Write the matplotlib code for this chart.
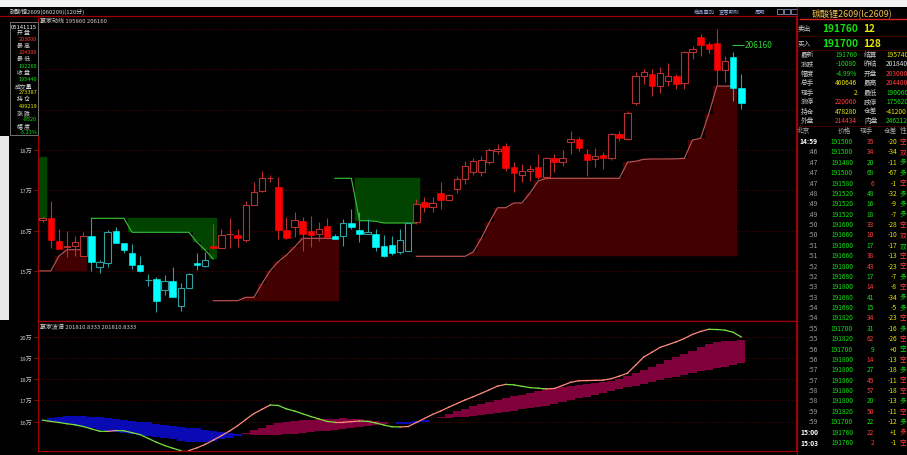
#!/usr/bin/env python3
# -*- coding: utf-8 -*-
import matplotlib
matplotlib.use("Agg")
import matplotlib.pyplot as plt
from matplotlib.patches import Rectangle

plt.rcParams["font.family"] = ["Noto Sans CJK SC", "DejaVu Sans"]

# ----------------------- Data -----------------------
# 120-minute candles, oldest first (yuan)
opens = [162600, 163050, 157500, 156000, 156100, 153630, 158740, 150900, 151900, 159830,
         156930, 154450, 151470, 147830, 148000, 145340, 147430, 141240, 145700, 151900,
         151300, 156100, 155700, 159100, 158900, 157750, 166430, 169900, 173050, 170900,
         160230, 161000, 162460, 159830, 159160, 161070, 158600, 158600, 161900, 160150,
         159100, 159160, 156100, 156430, 154600, 155000, 162060, 167020, 165780, 169430,
         167700, 170320, 172800, 174620, 174620, 176930, 179830, 180900, 175700, 173800,
         174860, 175700, 173230, 178000, 176930, 181900, 182700, 179000, 177770, 178760,
         177930, 184050, 182650, 191600, 198430, 198850, 195800, 197000, 198270, 196540,
         204240, 207960, 206220, 206550, 199920, 203000, 195380]
highs = [163600, 167420, 160400, 160000, 158670, 159660, 163130, 152700, 160230, 160900,
         156930, 156700, 153800, 149240, 148420, 149070, 150900, 147000, 149500, 154450,
         154700, 161650, 160400, 163050, 160400, 167420, 172000, 174860, 173800, 173380,
         163300, 164700, 163300, 163700, 162140, 163130, 159160, 162880, 165360, 164540,
         162800, 160400, 158900, 158740, 160330, 161900, 167850, 168260, 168260, 172000,
         169200, 173620, 177350, 178000, 178580, 180400, 181500, 181650, 176930, 176530,
         176200, 179000, 178350, 179000, 180070, 184790, 183150, 180250, 180570, 179430,
         184300, 184800, 189750, 199260, 200100, 200100, 200500, 201500, 198850, 204630,
         205880, 208780, 206710, 210000, 203400, 204240, 198850]
lows = [162100, 155610, 155400, 153400, 153700, 153630, 150060, 149500, 150900, 156900,
        154400, 150500, 149800, 146330, 139900, 144100, 143450, 140130, 145700, 150300,
        151050, 155450, 155700, 155700, 155850, 157100, 166430, 169500, 172000, 157900,
        157900, 158350, 155000, 155870, 157500, 158350, 157920, 156260, 160400, 157100,
        159100, 155000, 153400, 154000, 154200, 155000, 161650, 164550, 164550, 165360,
        167500, 169300, 171570, 173800, 173620, 176600, 179000, 174700, 169650, 172000,
        172300, 172800, 172800, 174470, 176100, 179000, 179830, 173620, 175860, 175280,
        177600, 182200, 182400, 191100, 196400, 193300, 194130, 196000, 195130, 195130,
        202570, 203400, 203990, 195950, 196790, 192230, 190170]
closes = [163100, 157670, 155450, 156200, 157100, 158740, 152130, 152130, 159590, 156930,
          155270, 151470, 150060, 147830, 142470, 147430, 143450, 145700, 149240, 151400,
          152790, 155700, 158900, 159100, 158100, 166430, 169520, 172980, 173050, 160150,
          158100, 162640, 159160, 159000, 160400, 158500, 157920, 161800, 160800, 159160,
          159600, 156000, 153630, 154450, 157670, 161900, 166600, 165780, 166850, 167700,
          168840, 172800, 176100, 177350, 177600, 180000, 180250, 175600, 174300, 174860,
          175280, 173230, 177930, 177100, 178000, 182730, 180500, 177600, 178580, 177930,
          183970, 182900, 189100, 198430, 199260, 195800, 199000, 198270, 196370, 204240,
          205060, 206050, 205060, 199920, 202000, 195380, 191760]
# trend state per candle: r = up-trend (red), c = down-trend (cyan)
trend = ("rrrrrr" "ccccccccccccccc" "rrrrrrrrrrrrrrr" "cccccccccc"
         "rrrrrrrrrrrrrrrrrrrrrrrrrrrrrrrrrrrrrrr" "cc")

# green resistance zones: first candle, line values, upper cap
res_starts = [-1, 6, 36]
res_lines = [[162880, 162880],
             [163050, 163050, 163050, 163050, 163050, 159580, 159580, 159580,
              159580, 159580, 159580, 159580, 159580, 157100, 155190, 152960],
             [172980, 172980, 172980, 162460, 162460, 162300, 161890, 161890,
              161890, 161890, 161890]]
res_caps = [178340, 163050, 172980]

# red support zones: first candle, line values, base
sup_starts = [-1, 21, 46]
sup_lines = [[150000, 150000, 150000, 153700, 155270, 155270, 155270],
             [142610, 142610, 142610, 142610, 143450, 143450, 146850, 150050,
              152290, 153900, 155930, 158090, 158090, 158090, 158090, 158090],
             [153630, 153630, 153630, 153630, 153630, 153630, 153630, 154690,
              158120, 162090, 165680, 165680, 166850, 166850, 169330, 172310,
              172980, 172980, 172980, 172980, 172980, 172980, 172980, 172980,
              172980, 172980, 176960, 177200, 177690, 177770, 177770, 177770,
              177820, 177940, 182480, 182900, 188960, 195860, 195860, 195860]]
sup_bases = [150000, 142610, 153630]
upper_mark = 206160

# lower panel (unit: 万)
wave = [16.07, 16.01, 15.96, 15.90, 15.85, 15.77, 15.66, 15.55, 15.54, 15.58,
        15.57, 15.48, 15.39, 15.21, 15.03, 14.88, 14.75, 14.64, 14.64, 14.77,
        14.93, 15.13, 15.34, 15.56, 15.81, 16.10, 16.38, 16.58, 16.78, 16.76,
        16.60, 16.50, 16.37, 16.24, 16.13, 16.01, 15.97, 15.97, 16.00, 16.03,
        16.01, 15.94, 15.84, 15.76, 15.75, 15.77, 15.96, 16.15, 16.34, 16.50,
        16.68, 16.85, 17.02, 17.17, 17.33, 17.50, 17.67, 17.75, 17.73, 17.66,
        17.60, 17.57, 17.54, 17.56, 17.70, 17.85, 17.92, 17.93, 17.94, 17.95,
        18.02, 18.14, 18.28, 18.66, 19.04, 19.26, 19.49, 19.62, 19.75, 19.91,
        20.10, 20.24, 20.34, 20.33, 20.30, 20.20, 19.98]
band_fast = [16.03, 15.99, 15.94, 15.89, 15.82, 15.75, 15.68, 15.62, 15.57, 15.53,
             15.48, 15.43, 15.39, 15.34, 15.29, 15.25, 15.17, 15.09, 15.04, 15.05,
             15.06, 15.11, 15.17, 15.24, 15.34, 15.46, 15.59, 15.71, 15.83, 15.95,
             16.00, 16.05, 16.08, 16.10, 16.11, 16.13, 16.14, 16.15, 16.14, 16.11,
             16.08, 16.05, 16.00, 15.95, 15.89, 15.91, 15.93, 16.00, 16.12, 16.24,
             16.37, 16.49, 16.61, 16.73, 16.85, 16.93, 17.02, 17.10, 17.19, 17.27,
             17.36, 17.45, 17.53, 17.58, 17.63, 17.68, 17.72, 17.77, 17.82, 17.86,
             17.92, 18.02, 18.16, 18.30, 18.43, 18.57, 18.72, 18.88, 19.03, 19.18,
             19.33, 19.49, 19.64, 19.74, 19.77, 19.80, 19.83]
band_slow = [16.10, 16.15, 16.20, 16.25, 16.25, 16.25, 16.23, 16.20, 16.17, 16.13,
             16.09, 16.05, 16.00, 15.96, 15.91, 15.86, 15.81, 15.77, 15.72, 15.68,
             15.62, 15.58, 15.53, 15.48, 15.44, 15.40, 15.39, 15.39, 15.38, 15.38,
             15.40, 15.43, 15.46, 15.50, 15.54, 15.57, 15.61, 15.64, 15.69, 15.74,
             15.78, 15.84, 15.88, 15.93, 15.96, 15.99, 16.02, 16.07, 16.12, 16.15,
             16.18, 16.21, 16.23, 16.26, 16.29, 16.35, 16.40, 16.46, 16.52, 16.58,
             16.63, 16.69, 16.75, 16.83, 16.92, 17.00, 17.09, 17.17, 17.26, 17.35,
             17.43, 17.52, 17.61, 17.69, 17.78, 17.86, 17.95, 18.04, 18.12, 18.20,
             18.28, 18.36, 18.43, 18.51, 18.59, 18.67, 18.74]

# left info box
info_labels = ["开 盘", "最 高", "最 低", "收 盘", "成交量", "持 仓", "涨 跌", "幅 度"]
info_values = ["203000", "204300", "192260", "195440", "273387", "499219", "-8520", "-3.23%"]
info_colors = ["r", "r", "g", "g", "y", "y", "g", "g"]

# right quote panel
quote_lab_a = ["最新", "涨跌", "幅度", "总手", "现手", "涨停", "持仓", "外盘"]
quote_val_a = ["191760", "-10080", "-4.99%", "460646", "2", "220060", "478280", "214434"]
quote_col_a = ["g", "g", "g", "y", "y", "r", "y", "r"]
quote_lab_b = ["结算", "昨结", "开盘", "最高", "最低", "跌停", "仓差", "内盘"]
quote_val_b = ["195740", "201840", "203000", "204400", "190060", "175620", "-41200", "246212"]
quote_col_b = ["y", "w", "r", "r", "g", "g", "y", "g"]

tick_times = ["14:59", ":46", ":47", ":47", ":47", ":48", ":49", ":49", ":50", ":50",
              ":51", ":51", ":52", ":52", ":53", ":53", ":54", ":54", ":55", ":55",
              ":56", ":56", ":57", ":57", ":58", ":58", ":59", ":59", "15:00", "15:03"]
tick_prices = ["191500", "191500", "191480", "191500", "191580", "191520", "191520", "191520",
               "191600", "191660", "191600", "191660", "191800", "191680", "191800", "191680",
               "191680", "191820", "191700", "191820", "191700", "191800", "191800", "191860",
               "191860", "191800", "191820", "191700", "191760", "191760"]
tick_vols = ["35", "34", "20", "68", "6", "48", "16", "18", "33", "10", "17", "38", "43", "17", "14",
             "41", "15", "34", "31", "62", "9", "14", "27", "45", "57", "20", "50", "22", "22", "2"]
tick_oi = ["-20", "-34", "-11", "-67", "-1", "-32", "-9", "-7", "-28", "-10", "-17", "-13", "-23",
           "-7", "-8", "-34", "-5", "-23", "-16", "-26", "+0", "-13", "-18", "-11", "-18", "-13",
           "-11", "-12", "+1", "-1"]
tick_kind = ["空", "双", "多", "多", "空", "多", "多", "多", "空", "双", "双", "空", "空", "多", "空",
             "多", "多", "空", "多", "空", "空", "空", "多", "空", "空", "多", "空", "多", "多", "空"]
tick_side = "rrggrgggrrgrrgrggrgrgrgrrgrgrr"

# ----------------------- Style -----------------------
AXIS_RED = "#a00000"
GRID = "#4a0000"
LABEL = "#c8c8c8"
RED_FILL, RED_EDGE = "#ff0000", "#b83030"
CYAN_FILL, CYAN_EDGE = "#00ffff", "#2f9f9f"
RES_FILL, RES_LINE = "#004400", "#38c038"
SUP_FILL, SUP_LINE = "#420000", "#c05858"
BAND_DN, BAND_UP = "#0a0ab4", "#80003c"
WAVE_UP, WAVE_DN = "#ff8c7c", "#78e040"
TXT = {"r": "#ff3c3c", "g": "#10e010", "y": "#e6e600", "w": "#e0e0e0"}

W, H = 907, 456
fig = plt.figure(figsize=(W / 100, H / 100), dpi=100, facecolor="black")


def axes_px(x0, y0, x1, y1):
    return fig.add_axes([x0 / W, 1 - y1 / H, (x1 - x0) / W, (y1 - y0) / H])


ax = axes_px(38, 17, 796, 322)
ax2 = axes_px(38, 322, 796, 452)
for a in (ax, ax2):
    a.set_facecolor("black")
    a.set_xlim(-0.58, 92.74)
    a.set_xticks([])
    for s in a.spines.values():
        s.set_color(AXIS_RED)
        s.set_linewidth(0.9)
    a.tick_params(axis="y", colors=AXIS_RED, labelcolor=LABEL, labelsize=4.3,
                  length=3, width=0.7, pad=1)

# ----------------------- Price panel -----------------------
ax.set_ylim(137575, 213245)
price_ticks = [150000, 160000, 170000, 180000, 190000, 200000, 210000]
ax.set_yticks(price_ticks)
# labels above 18万 sit under the info box, so only the lower ones are shown
ax.set_yticklabels([f"{v // 10000}万" if v <= 180000 else "" for v in price_ticks])
for v in price_ticks:
    ax.axhline(v, color=GRID, lw=0.6, ls=(0, (2, 2)), zorder=0)

for start, line, cap in zip(res_starts, res_lines, res_caps):
    idx = list(range(start, start + len(line)))
    ax.bar(idx, [cap - v for v in line], bottom=line, width=1.0, color=RES_FILL,
           edgecolor=RES_FILL, lw=0.3, zorder=1)
    ax.plot(idx, line, color=RES_LINE, lw=0.8, zorder=2)

for start, line, base in zip(sup_starts, sup_lines, sup_bases):
    idx = list(range(start, start + len(line)))
    ax.bar(idx, [v - base for v in line], bottom=base, width=1.0, color=SUP_FILL,
           edgecolor=SUP_FILL, lw=0.3, zorder=1)
    ax.plot(idx, line, color=SUP_LINE, lw=0.8, zorder=2)

for i in range(len(opens)):
    o, h, l, c = opens[i], highs[i], lows[i], closes[i]
    up = trend[i] == "r"
    edge = RED_EDGE if up else CYAN_EDGE
    face = RED_FILL if up else CYAN_FILL
    ax.vlines(i, l, h, color=edge, lw=0.8, zorder=3)
    lo, hi = min(o, c), max(o, c)
    if c < o:
        ax.add_patch(Rectangle((i - 0.4, lo), 0.8, hi - lo, facecolor=face,
                               edgecolor=face, lw=0.4, zorder=4))
    elif c > o:
        ax.add_patch(Rectangle((i - 0.4, lo), 0.8, hi - lo, facecolor="black",
                               edgecolor=edge, lw=0.8, zorder=4))
    else:
        ax.hlines(o, i - 0.4, i + 0.4, color=edge, lw=0.8, zorder=4)

ax.hlines(upper_mark, 84.9, 86.3, color="#30c030", lw=0.8, zorder=5)
ax.text(86.4, upper_mark, str(upper_mark), color="#30d030", fontsize=6,
        va="center", ha="left", zorder=5)

# ----------------------- Wave panel -----------------------
ax2.set_ylim(14.62, 20.73)
wave_ticks = [16, 17, 18, 19, 20]
ax2.set_yticks(wave_ticks)
ax2.set_yticklabels([f"{v}万" for v in wave_ticks])
for v in wave_ticks:
    ax2.axhline(v, color=GRID, lw=0.6, ls=(0, (2, 2)), zorder=0)

for i, (f, s) in enumerate(zip(band_fast, band_slow)):
    ax2.bar(i, abs(f - s), bottom=min(f, s), width=1.0,
            color=BAND_UP if f >= s else BAND_DN, lw=0, zorder=1)
for k in range(len(wave) - 1):
    col = WAVE_UP if wave[k + 1] >= wave[k] else WAVE_DN
    ax2.plot([k, k + 1], [wave[k], wave[k + 1]], color=col, lw=0.9, zorder=3)

# ----------------------- Overlay (pixel coords) -----------------------
ov = fig.add_axes([0, 0, 1, 1])
ov.set_xlim(0, W)
ov.set_ylim(H, 0)
ov.axis("off")

ov.add_patch(Rectangle((0, 0), W, 7.5, facecolor="#f2f2f2", lw=0))
ov.add_patch(Rectangle((0, 137), 8.5, 184, facecolor="#e8e8e8", lw=0))
ov.plot([0, 38], [16.5, 16.5], color=AXIS_RED, lw=0.9)
ov.plot([797, 797], [7.5, H], color=AXIS_RED, lw=0.9)

ov.text(10, 12, "碳酸锂2609(060209)(120分)", fontsize=4.3, color="#d8d8d8", va="center")
for x, s in [(694, "商品叠加"), (719, "查看期权"), (755, "周期")]:
    ov.text(x, 12, s, fontsize=3.8, color="#9aa8d8", va="center")
for x in (777, 784, 791):
    ov.add_patch(Rectangle((x, 9.5), 6, 5.5, facecolor="none", edgecolor="#9aa8d8", lw=0.5))

ov.text(40, 21.5, "赢家动线 195860 206160", fontsize=4.3, color="#d0d0d0", va="center")
ov.text(40, 327, "赢家波谱 201810.8333 201810.8333", fontsize=4.3, color="#d0d0d0", va="center")

# info box
ov.add_patch(Rectangle((9.5, 23), 28.5, 113, facecolor="black", edgecolor="#707070", lw=0.7))
ov.text(23.7, 27.5, "05141115", fontsize=4.2, color="white", ha="center", va="center")
for k in range(len(info_labels)):
    ov.text(23.7, 33 + 13.33 * k, info_labels[k], fontsize=4.2, color="#d8d8d8",
            ha="center", va="center")
    ov.text(37.2, 39.6 + 13.33 * k, info_values[k], fontsize=4.0, color=TXT[info_colors[k]],
            ha="right", va="center")

# right panel header
ov.text(812, 13, "碳酸锂2609(lc2609)", fontsize=6.5, color="#f0c050", va="center")
ov.plot([800, W], [20, 20], color="#e02020", lw=1.0)
for y in (36.5, 51, 126.5):
    ov.plot([798, W], [y, y], color="#4a0000", lw=0.6)

for y, lab, price, qty in [(29.5, "卖出", "191760", "12"), (44, "买入", "191700", "128")]:
    ov.text(798, y, lab, fontsize=4.8, color="#c8c8c8", va="center")
    ov.text(822, y, price, fontsize=7.3, color=TXT["g"], va="center", fontweight="bold")
    ov.text(863, y, qty, fontsize=7.3, color=TXT["y"], va="center", fontweight="bold")

for k in range(len(quote_lab_a)):
    y = 55 + 9.43 * k
    ov.text(801, y, quote_lab_a[k], fontsize=4.8, color="#c8c8c8", va="center")
    ov.text(857, y, quote_val_a[k], fontsize=4.8, color=TXT[quote_col_a[k]], va="center", ha="right")
    ov.text(864, y, quote_lab_b[k], fontsize=4.8, color="#c8c8c8", va="center")
    ov.text(886, y, quote_val_b[k], fontsize=4.8, color=TXT[quote_col_b[k]], va="center")

for x, s in [(797, "北京"), (838, "价格"), (860, "现手"), (884, "仓差"), (900, "性")]:
    ov.text(x, 131, s, fontsize=4.8, color="#a8a8a8", va="center")

for k in range(len(tick_times)):
    y = 142 + 10.38 * k
    t = tick_times[k]
    bold = not t.startswith(":")
    ov.text(818, y, t, fontsize=4.8, color="white" if bold else "#a0a0a0", va="center",
            ha="right", fontweight="bold" if bold else "normal")
    ov.text(853, y, tick_prices[k], fontsize=4.8, color=TXT["g"], va="center", ha="right")
    side = TXT[tick_side[k]]
    ov.text(874, y, tick_vols[k], fontsize=4.8, color=side, va="center", ha="right")
    ov.text(897, y, tick_oi[k], fontsize=4.8, color=TXT["y"], va="center", ha="right")
    ov.text(899.5, y, tick_kind[k], fontsize=4.8, color=side, va="center")

fig.savefig("out.png", dpi=100, facecolor="black")
